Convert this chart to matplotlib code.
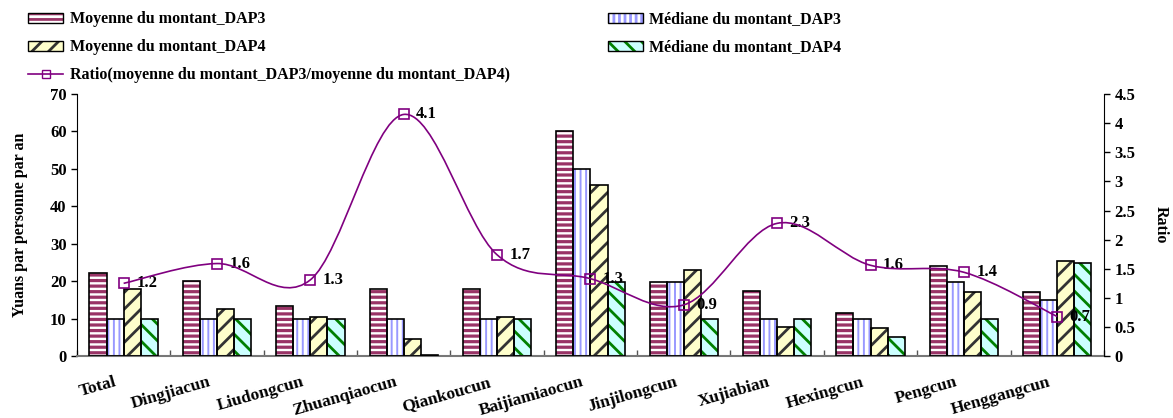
import numpy as np
import matplotlib
matplotlib.use("Agg")
import matplotlib.pyplot as plt
from matplotlib.patches import Patch, PathPatch
from matplotlib.path import Path
from matplotlib.lines import Line2D
from matplotlib.legend_handler import HandlerTuple

plt.rcParams["font.family"] = ["Liberation Serif", "DejaVu Serif"]
plt.rcParams["font.weight"] = "bold"
plt.rcParams["axes.labelweight"] = "bold"
plt.rcParams["hatch.linewidth"] = 2.0

# --------------------------------------------------------------------------- #
#  Data                                               #
# --------------------------------------------------------------------------- #

villages = ["Total", "Dingjiacun", "Liudongcun", "Zhuanqiaocun", "Qiankoucun",
            "Baijiamiaocun", "Jinjilongcun", "Xujiabian", "Hexingcun",
            "Pengcun", "Henggangcun"]

moy_dap3 = [22.3, 20.0, 13.5, 17.8, 17.8, 60.1, 19.9, 17.5, 11.4, 24.2, 17.2]
med_dap3 = [10.0, 10.0, 10.0, 10.0, 10.0, 50.0, 19.9, 10.0, 10.0, 19.9, 15.1]
moy_dap4 = [17.8, 12.7, 10.5, 4.5, 10.4, 45.7, 22.9, 7.7, 7.4, 17.2, 25.5]
med_dap4 = [10.0, 10.0, 10.0, 0.3, 10.0, 19.8, 10.0, 10.0, 5.1, 10.0, 24.8]

ratio = [1.25, 1.59, 1.31, 4.15, 1.74, 1.33, 0.88, 2.28, 1.56, 1.44, 0.68]
ratio_labels = ["1.2", "1.6", "1.3", "4.1", "1.7", "1.3", "0.9", "2.3", "1.6",
                "1.4", "0.7"]

# --------------------------------------------------------------------------- #
#  Styles                                                                      #
# --------------------------------------------------------------------------- #

series = [
    # values,   face,      hatch, hatch colour, hatch lw, label
    (moy_dap3, "white",   "---", "#993366", 2.3, "Moyenne du montant_DAP3"),
    (med_dap3, "white",   "|||", "#9999FF", 1.4, "Médiane du montant_DAP3"),
    (moy_dap4, "#FFFFCC", "//",  "#333333", 2.0, "Moyenne du montant_DAP4"),
    (med_dap4, "#CCFFFF", "\\\\", "#008000", 2.0, "Médiane du montant_DAP4"),
]
LINE_COL = "#800080"
W = 0.183


def hatch_lw(artist, lw):
    if hasattr(artist, "set_hatch_linewidth"):
        artist.set_hatch_linewidth(lw)


# --------------------------------------------------------------------------- #
#  Figure                                                                      #
# --------------------------------------------------------------------------- #

fig = plt.figure(figsize=(11.73, 4.18), dpi=100)
ax = fig.add_axes([0.0656, 0.148, 0.8755, 0.627])
x = np.arange(len(villages))

handles = {}
for k, (vals, face, hatch, hcol, hlw, label) in enumerate(series):
    pos = x + (k - 1.5) * W
    bars = ax.bar(pos, vals, W, color=face, edgecolor=hcol, hatch=hatch,
                  linewidth=0, zorder=2)
    for b in bars:
        hatch_lw(b, hlw)
    ax.bar(pos, vals, W, fill=False, edgecolor="black", linewidth=1.2, zorder=3)
    ph = Patch(facecolor=face, edgecolor=hcol, hatch=hatch, linewidth=0)
    hatch_lw(ph, hlw)
    po = Patch(fill=False, edgecolor="black", linewidth=1.0)
    handles[label] = (ph, po)

ax.set_xlim(-0.5, len(villages) - 0.5)
ax.set_ylim(0, 70)
ax.set_yticks(range(0, 71, 10))
ax.set_ylabel("Yuans par personne par an", fontsize=11.5, labelpad=16)
ax.tick_params(axis="y", direction="out", length=4, width=1, labelsize=12)

ax.set_xticks(np.arange(len(villages) + 1) - 0.5)
ax.set_xticklabels([])
ax.tick_params(axis="x", direction="in", length=4, width=1, color="#555555")
for i, name in enumerate(villages):
    ax.text(i - 0.1, -4.8, name, rotation=16, ha="right", va="top",
            rotation_mode="anchor", fontsize=12.5)

ax.spines["top"].set_visible(False)
ax.spines["right"].set_visible(False)
ax.spines["bottom"].set_color("#777777")
ax.spines["bottom"].set_linewidth(1.5)

# ratio axis
ax2 = ax.twinx()
ax2.set_ylim(0, 4.5)
ax2.set_yticks(np.arange(0, 4.51, 0.5))
ax2.set_yticklabels([f"{v:g}" for v in np.arange(0, 4.51, 0.5)])
ax2.tick_params(axis="y", direction="out", length=4, width=1, labelsize=12)
ax2.set_ylabel("Ratio", fontsize=11.5, rotation=-90, labelpad=24)
ax2.spines["top"].set_visible(False)
ax2.spines["left"].set_visible(False)
ax2.spines["bottom"].set_visible(False)

# smoothed line (Catmull-Rom Bezier, like Excel's smoothing)
pts = np.column_stack([x, ratio]).astype(float)
verts = [tuple(pts[0])]
codes = [Path.MOVETO]
n = len(pts)
for i in range(n - 1):
    p0 = pts[max(i - 1, 0)]
    p1 = pts[i]
    p2 = pts[i + 1]
    p3 = pts[min(i + 2, n - 1)]
    c1 = p1 + (p2 - p0) / 6.0
    c2 = p2 - (p3 - p1) / 6.0
    verts += [tuple(c1), tuple(c2), tuple(p2)]
    codes += [Path.CURVE4] * 3
ax2.add_patch(PathPatch(Path(verts, codes), fill=False, edgecolor=LINE_COL,
                        linewidth=1.2, zorder=4))
ax2.plot(x, ratio, linestyle="none", marker="s", markersize=7,
         markerfacecolor="none", markeredgecolor=LINE_COL,
         markeredgewidth=1.2, zorder=5)
for i, lab in enumerate(ratio_labels):
    ax2.annotate(lab, (x[i], ratio[i]), xytext=(9, 0),
                 textcoords="offset points", ha="left", va="center",
                 fontsize=12)

# legends
line_h = Line2D([], [], color=LINE_COL, lw=1.2, marker="s", markersize=6,
                markerfacecolor="none", markeredgecolor=LINE_COL)
lab = [s[5] for s in series]
leg_kw = dict(frameon=False, fontsize=11.5, handlelength=2.2, handleheight=0.6,
              handletextpad=0.4, labelspacing=0.75, borderaxespad=0,
              borderpad=0, handler_map={tuple: HandlerTuple(ndivide=1)})
fig.legend([handles[lab[0]], handles[lab[2]], line_h],
           [lab[0], lab[2], "Ratio(moyenne du montant_DAP3/moyenne du montant_DAP4)"],
           loc="upper left", bbox_to_anchor=(0.024, 0.973), **leg_kw)
fig.legend([handles[lab[1]], handles[lab[3]]], [lab[1], lab[3]],
           loc="upper left", bbox_to_anchor=(0.518, 0.973), **leg_kw)

fig.savefig("out.png", dpi=100)
